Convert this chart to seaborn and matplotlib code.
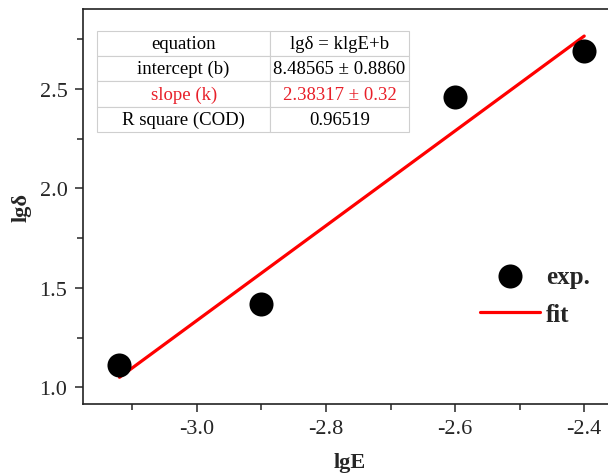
import numpy as np
import pandas as pd
import matplotlib
matplotlib.use("Agg")
import matplotlib.pyplot as plt
from matplotlib.ticker import MultipleLocator
import seaborn as sns

# Measured points
lgE = [-3.12, -2.90, -2.60, -2.40]
lg_delta = [1.11, 1.42, 2.46, 2.69]

# Linear fit lgδ = k·lgE + b
slope_k = 2.38317
intercept_b = 8.48565
fit_range = [-3.12, -2.40]

table_rows = [
    ["equation", "lgδ = klgE+b"],
    ["intercept (b)", "8.48565 ± 0.8860"],
    ["slope (k)", "2.38317 ± 0.32"],
    ["R square (COD)", "0.96519"],
]
table_colors = ["black", "black", "#e8202a", "black"]

xticks = [-3.0, -2.8, -2.6, -2.4]
yticks = [1.0, 1.5, 2.0, 2.5]

sns.set_style("ticks")
plt.rcParams["font.family"] = ["Liberation Serif", "DejaVu Serif"]

W, H = 608, 477
fig = plt.figure(figsize=(W / 100, H / 100), dpi=100)
px_left, px_right, px_top, px_bottom = 82.7, 616.5, 10, 405
ax = fig.add_axes([px_left / W, 1 - px_bottom / H,
                   (px_right - px_left) / W, (px_bottom - px_top) / H])

pts = pd.DataFrame({"lgE": lgE, "lgδ": lg_delta})
fit_x = np.array(fit_range)
fit = pd.DataFrame({"lgE": fit_x, "lgδ": slope_k * fit_x + intercept_b})

sns.scatterplot(data=pts, x="lgE", y="lgδ", ax=ax, s=300, color="black",
                edgecolor="black", linewidth=0, label="exp.", zorder=3)
sns.lineplot(data=fit, x="lgE", y="lgδ", ax=ax, color="#ff0000",
             linewidth=2.3, label="fit", zorder=2)

ax.set_xlim(-3.177, -2.35)
ax.set_ylim(0.916, 2.902)
ax.set_xticks(xticks)
ax.set_yticks(yticks)
ax.xaxis.set_minor_locator(MultipleLocator(0.1))
ax.yaxis.set_minor_locator(MultipleLocator(0.25))
ax.set_xticklabels([f"{v:.1f}" for v in xticks])
ax.set_yticklabels([f"{v:.1f}" for v in yticks])
ax.tick_params(which="major", direction="out", length=6, width=1.1,
               labelsize=16, pad=5)
ax.tick_params(which="minor", direction="out", length=4.5, width=1.1)
for side in ["left", "right", "top", "bottom"]:
    ax.spines[side].set_visible(True)
    ax.spines[side].set_linewidth(1.2)
    ax.spines[side].set_color("#222222")

ax.set_xlabel("lgE", fontsize=16, fontweight="bold", labelpad=10)
ax.set_ylabel("lgδ", fontsize=16, fontweight="bold", labelpad=6)

# Fit parameter table
tx0, tx1 = (97.3 - px_left) / (px_right - px_left), (409 - px_left) / (px_right - px_left)
ty0, ty1 = (px_bottom - 133) / (px_bottom - px_top), (px_bottom - 31.7) / (px_bottom - px_top)
tbl = ax.table(cellText=table_rows, cellLoc="center",
               colWidths=[0.554, 0.446],
               bbox=[tx0, ty0, tx1 - tx0, ty1 - ty0], zorder=4)
tbl.auto_set_font_size(False)
for (r, c), cell in tbl.get_celld().items():
    cell.set_edgecolor("#cfcfcf")
    cell.set_linewidth(0.8)
    cell.set_facecolor("white")
    cell.get_text().set_fontsize(13.5)
    cell.get_text().set_color(table_colors[r])

leg = ax.legend(loc="upper left", bbox_to_anchor=(480 / W, 1 - 266 / H),
                bbox_transform=fig.transFigure, frameon=False,
                borderpad=0, borderaxespad=0, handlelength=2.4,
                handletextpad=0.25, labelspacing=0.6,
                prop={"size": 18, "weight": "bold"})

fig.savefig("out.png", dpi=100)
